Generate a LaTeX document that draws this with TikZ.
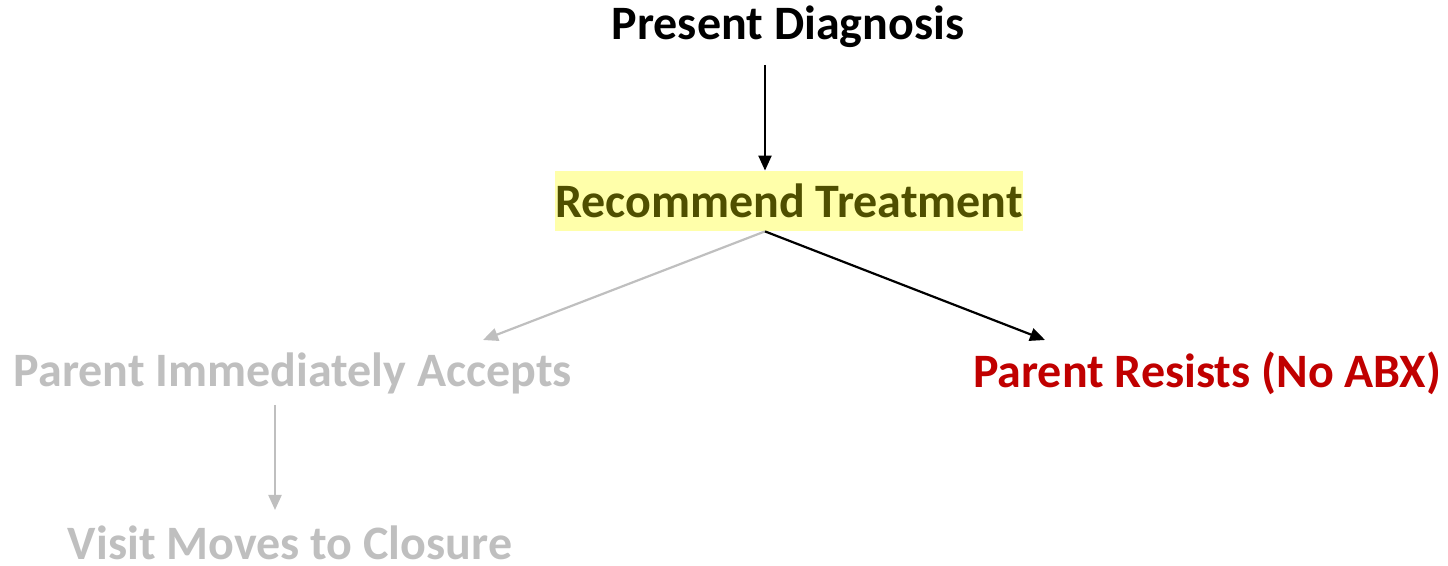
\documentclass[tikz,border=0pt]{standalone}
\usepackage{fontspec}
\setmainfont{Carlito}
\usetikzlibrary{arrows.meta}
\definecolor{mutedgray}{HTML}{BFBFBF}
\definecolor{olivetext}{HTML}{4F4F00}
\definecolor{hlyellow}{HTML}{FFFFAA}
\definecolor{resistred}{HTML}{C00000}
\tikzset{
  label text/.style={font=\bfseries\fontsize{24}{28}\selectfont, inner sep=0pt},
  flow/.style={line width=1.1pt, -{Triangle[length=7.5pt,width=6.5pt]}},
}
\begin{document}
\begin{tikzpicture}[x=0.5pt,y=-0.5pt]
  \useasboundingbox (0,0) rectangle (1448,566);
  % step labels
  \node[label text] (pd) at (788,27) {Present Diagnosis};
  \node[label text, text=olivetext, fill=hlyellow, minimum width=232pt, minimum height=30pt] (rt) at (789,201) {Recommend Treatment};
  \node[label text, text=mutedgray] (acc) at (293,373) {Parent Immediately Accepts};
  \node[label text, text=resistred] (res) at (1207,373) {Parent Resists (No ABX)};
  \node[label text, text=mutedgray] (vis) at (290,543) {Visit Moves to Closure};
  % connectors
  \draw[flow] ([xshift=-11.5pt,yshift=-19pt]pd.center) -- ([xshift=-12pt]rt.north);
  \draw[flow, color=mutedgray] ([xshift=-12pt]rt.south) -- ([xshift=95pt,yshift=16.5pt]acc.center);
  \draw[flow] ([xshift=-12pt]rt.south) -- ([xshift=-81pt,yshift=16.5pt]res.center);
  \draw[flow, color=mutedgray] ([xshift=-9pt,yshift=-16pt]acc.center) -- ([xshift=-7.5pt,yshift=16.5pt]vis.center);
\end{tikzpicture}
\end{document}
